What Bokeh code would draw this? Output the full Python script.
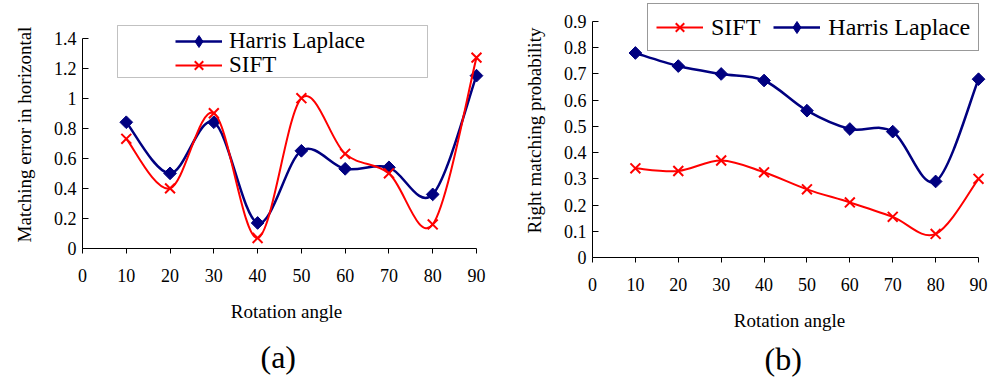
import numpy as np
from bokeh.plotting import figure
from bokeh.models import Range1d, FixedTicker, Legend, LegendItem, BoxAnnotation, Title
from bokeh.layouts import row
from bokeh.embed import file_html
from bokeh.resources import INLINE

# ---------------- data ----------------
angles = [10, 20, 30, 40, 50, 60, 70, 80, 90]
err_harris = [0.84, 0.50, 0.84, 0.17, 0.65, 0.53, 0.54, 0.36, 1.15]
err_sift = [0.73, 0.40, 0.90, 0.07, 1.00, 0.63, 0.50, 0.16, 1.27]
prob_sift = [0.34, 0.33, 0.37, 0.325, 0.26, 0.21, 0.155, 0.09, 0.30]
prob_harris = [0.78, 0.73, 0.70, 0.675, 0.56, 0.49, 0.48, 0.29, 0.68]

x_ticks = [0, 10, 20, 30, 40, 50, 60, 70, 80, 90]
x_tick_labels = ["0", "10", "20", "30", "40", "50", "60", "70", "80", "90"]
err_ticks = [0, 0.2, 0.4, 0.6, 0.8, 1.0, 1.2, 1.4]
err_tick_labels = ["0", "0.2", "0.4", "0.6", "0.8", "1", "1.2", "1.4"]
prob_ticks = [0, 0.1, 0.2, 0.3, 0.4, 0.5, 0.6, 0.7, 0.8, 0.9]
prob_tick_labels = ["0", "0.1", "0.2", "0.3", "0.4", "0.5", "0.6", "0.7", "0.8", "0.9"]

NAVY = "#000080"
RED = "#ff0000"
FONT = "Liberation Serif"


def smooth_segments(xs, ys):
    """Bezier control points (Excel-style smoothed line) from the data."""
    x = np.asarray(xs, float)
    y = np.asarray(ys, float)
    n = len(x)
    xp = np.concatenate([[x[0]], x, [x[-1]]])
    yp = np.concatenate([[y[0]], y, [y[-1]]])
    return dict(
        x0=x[:-1], y0=y[:-1], x1=x[1:], y1=y[1:],
        cx0=x[:-1] + (xp[2:n + 1] - xp[0:n - 1]) / 6.0,
        cy0=y[:-1] + (yp[2:n + 1] - yp[0:n - 1]) / 6.0,
        cx1=x[1:] - (xp[3:n + 2] - xp[1:n]) / 6.0,
        cy1=y[1:] - (yp[3:n + 2] - yp[1:n]) / 6.0,
    )


def make_fig(frame_w, frame_h, x_end, y_end, bl, br, bt, yticks, ylabels, ybound, ylabel):
    p = figure(frame_width=frame_w, frame_height=frame_h,
               x_range=Range1d(0, x_end), y_range=Range1d(0, y_end),
               output_backend="svg", toolbar_location=None,
               min_border_left=bl, min_border_right=br, min_border_top=bt,
               min_border_bottom=0, frame_align=False)
    p.title = None
    p.xgrid.visible = False
    p.ygrid.visible = False
    p.outline_line_color = None
    p.background_fill_color = "white"
    p.border_fill_color = "white"

    xa = p.xaxis[0]
    xa.ticker = FixedTicker(ticks=x_ticks)
    xa.major_label_overrides = {t: l for t, l in zip(x_ticks, x_tick_labels)}
    xa.bounds = (0, 90)
    xa.major_tick_in = 0
    xa.major_tick_out = 5
    xa.minor_tick_line_color = None
    xa.axis_line_color = "black"
    xa.major_tick_line_color = "black"
    xa.major_label_text_font = FONT
    xa.major_label_text_font_size = "18px"
    xa.major_label_text_color = "black"
    xa.major_label_standoff = 15
    xa.axis_label = "Rotation angle"
    xa.axis_label_text_font = FONT
    xa.axis_label_text_font_size = "19px"
    xa.axis_label_text_font_style = "normal"
    xa.axis_label_text_color = "black"
    xa.axis_label_standoff = 16

    ya = p.yaxis[0]
    ya.ticker = FixedTicker(ticks=yticks)
    ya.major_label_overrides = {t: l for t, l in zip(yticks, ylabels)}
    ya.bounds = ybound
    ya.major_tick_in = 6
    ya.major_tick_out = 0
    ya.minor_tick_line_color = None
    ya.axis_line_color = "black"
    ya.major_tick_line_color = "black"
    ya.major_label_text_font = FONT
    ya.major_label_text_font_size = "18px"
    ya.major_label_text_color = "black"
    ya.major_label_standoff = 6
    ya.axis_label = ylabel
    ya.axis_label_text_font = FONT
    ya.axis_label_text_font_size = "19px"
    ya.axis_label_text_font_style = "normal"
    ya.axis_label_text_color = "black"
    ya.axis_label_standoff = 16
    return p


def style_legend(lg, size):
    lg.label_text_font = FONT
    lg.label_text_font_size = size
    lg.label_text_color = "black"
    lg.glyph_width = 47
    lg.glyph_height = 30
    lg.label_height = 30
    lg.margin = 0


def add_series(p, xs, ys, color, kind, lw):
    seg = smooth_segments(xs, ys)
    ln = p.bezier(line_color=color, line_width=lw, **seg)
    if kind == "diamond":
        p.scatter(xs, ys, marker="square", angle=np.pi / 4, size=9,
                  fill_color=color, line_color=color, line_width=1)
        # legend-only glyph (the legend ignores marker angles)
        key = p.scatter(xs, ys, marker="diamond", size=14, fill_color=color,
                        line_color=color, visible=False)
    else:
        key = p.scatter(xs, ys, marker="x", size=14, line_color=color, line_width=2)
    return ln, key


def caption(text, offset, standoff):
    return Title(text=text, align="left", text_font=FONT, text_font_size="32px",
                 text_font_style="normal", text_color="black",
                 offset=offset, standoff=standoff)


# ---------------- panel (a) ----------------
pa = make_fig(408, 228, 93.2, 1.517, 82, 10, 20,
              err_ticks, err_tick_labels, (0, 1.4), "Matching error in horizontal")
ha_l, ha_k = add_series(pa, angles, err_harris, NAVY, "diamond", 2.5)
sa_l, sa_k = add_series(pa, angles, err_sift, RED, "x", 2)

leg_a1 = Legend(items=[LegendItem(label="Harris Laplace", renderers=[ha_l, ha_k])],
                location=(93, 192), padding=0, label_standoff=7,
                border_line_color=None, background_fill_alpha=0)
leg_a2 = Legend(items=[LegendItem(label="SIFT", renderers=[sa_l, sa_k])],
                location=(93, 168), padding=0, label_standoff=7,
                border_line_color=None, background_fill_alpha=0)
style_legend(leg_a1, "23px")
style_legend(leg_a2, "23px")
pa.add_layout(leg_a1)
pa.add_layout(leg_a2)
pa.add_layout(BoxAnnotation(left=35, right=345, top=223, bottom=171,
                            left_units="screen", right_units="screen",
                            top_units="screen", bottom_units="screen",
                            fill_alpha=0, line_color="#333333", line_width=1))
pa.add_layout(caption("(a)", 178, 25), "below")

# ---------------- panel (b) ----------------
pb = make_fig(394, 254, 91.86, 0.9687, 92, 5, 3,
              prob_ticks, prob_tick_labels, (0, 0.9), "Right matching probability")
sb_l, sb_k = add_series(pb, angles, prob_sift, RED, "x", 2)
hb_l, hb_k = add_series(pb, angles, prob_harris, NAVY, "diamond", 2.5)

leg_b = Legend(items=[LegendItem(label="SIFT", renderers=[sb_l, sb_k]),
                      LegendItem(label="Harris Laplace", renderers=[hb_l, hb_k])],
               orientation="horizontal", location=(55, 206), padding=8, spacing=13,
               label_standoff=8, border_line_color="#333333", border_line_width=1,
               background_fill_color="white", background_fill_alpha=1)
style_legend(leg_b, "24px")
pb.add_layout(leg_b)
pb.add_layout(caption("(b)", 172, 11), "below")

layout = row(pa, pb)
open("out.html", "w").write(file_html(layout, INLINE))
